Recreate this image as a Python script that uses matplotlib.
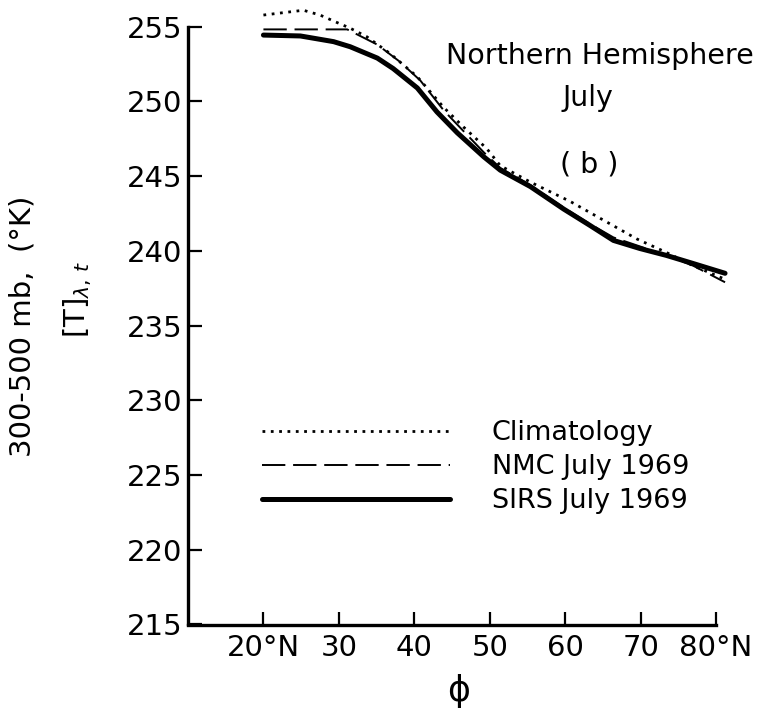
import matplotlib
matplotlib.use("Agg")
import matplotlib.pyplot as plt

# Data
lat_sirs = [20, 24.9, 29.3, 31.5, 35.1, 37.2, 40.4, 43, 45.7, 49.2, 51.4, 55.4, 59.8, 63.3, 66.4, 69.9, 73.4, 77, 81.2]
t_sirs = [254.44, 254.38, 254.0, 253.66, 252.9, 252.2, 250.9, 249.3, 247.9, 246.3, 245.4, 244.3, 242.8, 241.7, 240.7, 240.16, 239.7, 239.15, 238.5]

lat_nmc = [20, 31.1, 35.1, 38.1, 40.8, 43.9, 49.2, 51.4, 55.4, 59.8, 63.3, 66.4, 69.9, 73.4, 77, 81.2]
t_nmc = [254.82, 254.82, 253.8, 252.65, 251.4, 249.4, 246.6, 245.55, 244.4, 242.9, 241.8, 240.9, 240.3, 239.7, 239.0, 237.9]

lat_clim = [20, 25.3, 27.5, 29.8, 31.5, 33.7, 36.8, 40.4, 43.9, 46.5, 49.6, 51.4, 55.4, 60.7, 65.1, 69.5, 73.4, 77, 81.2]
t_clim = [255.78, 256.1, 255.78, 255.27, 254.9, 254.33, 253.2, 251.65, 249.6, 248.3, 246.85, 245.7, 244.6, 243.3, 242.05, 240.8, 239.9, 239.0, 238.1]

series_labels = ["Climatology", "NMC July 1969", "SIRS July 1969"]
x_ticks = [20, 30, 40, 50, 60, 70, 80]
x_ticklabels = ["20°N", "30", "40", "50", "60", "70", "80°N"]
y_ticks = [215, 220, 225, 230, 235, 240, 245, 250, 255]

plt.rcParams['font.family'] = ['DejaVu Sans']

W, H = 767, 710
fig = plt.figure(figsize=(W / 100, H / 100), dpi=100)
px_per_deg = (716 - 188) / 70.0
ax_w = 71.5 * px_per_deg
ax = fig.add_axes([188 / W, 1 - 624.5 / H, ax_w / W, (624.5 - 26.7) / H])

ax.plot(lat_clim, t_clim, color='black', lw=2.0, linestyle=(0, (1, 2)), label=series_labels[0], clip_on=False)
ax.plot(lat_nmc, t_nmc, color='black', lw=1.4, linestyle=(0, (12, 4)), label=series_labels[1], clip_on=False)
ax.plot(lat_sirs, t_sirs, color='black', lw=3.6, solid_capstyle='round', label=series_labels[2], clip_on=False)

ax.set_xlim(10, 81.5)
ax.set_ylim(215, 255)
ax.spines['bottom'].set_bounds(10, 80)
ax.set_xticks(x_ticks)
ax.set_xticklabels(x_ticklabels)
ax.set_yticks(y_ticks)
for s in ['top', 'right']:
    ax.spines[s].set_visible(False)
for s in ['left', 'bottom']:
    ax.spines[s].set_linewidth(2.4)
ax.tick_params(direction='in', width=1.6, labelsize=21)
ax.tick_params(axis='y', length=10, pad=4)
ax.tick_params(axis='x', length=9.4, pad=7)

# x-axis label (phi), placed as figure text so it stays inside the canvas
fig.text(459 / W, 2 / H, "\u03d5", fontsize=25, ha='center', va='bottom')

fig.text(23 / W, 1 - 326 / H, "300-500 mb,  (°K)", rotation=90, fontsize=21, ha='center', va='center')
fig.text(78 / W, 1 - 299 / H, r"[T]$_{\lambda,\,t}$", rotation=90, fontsize=21, ha='center', va='center')

fig.text(600 / W, 1 - 56 / H, "Northern Hemisphere", fontsize=20.5, ha='center', va='center')
fig.text(588 / W, 1 - 98 / H, "July", fontsize=20.5, ha='center', va='center')
fig.text(589 / W, 1 - 165 / H, "( b )", fontsize=20.5, ha='center', va='center')

leg = ax.legend(loc='upper left', bbox_to_anchor=(262 / W, 1 - 420 / H), bbox_transform=fig.transFigure,
                frameon=False, fontsize=19.5, borderpad=0, borderaxespad=0,
                handlelength=6.94, handletextpad=1.55, labelspacing=0.3)

fig.savefig("out.png", dpi=100)
